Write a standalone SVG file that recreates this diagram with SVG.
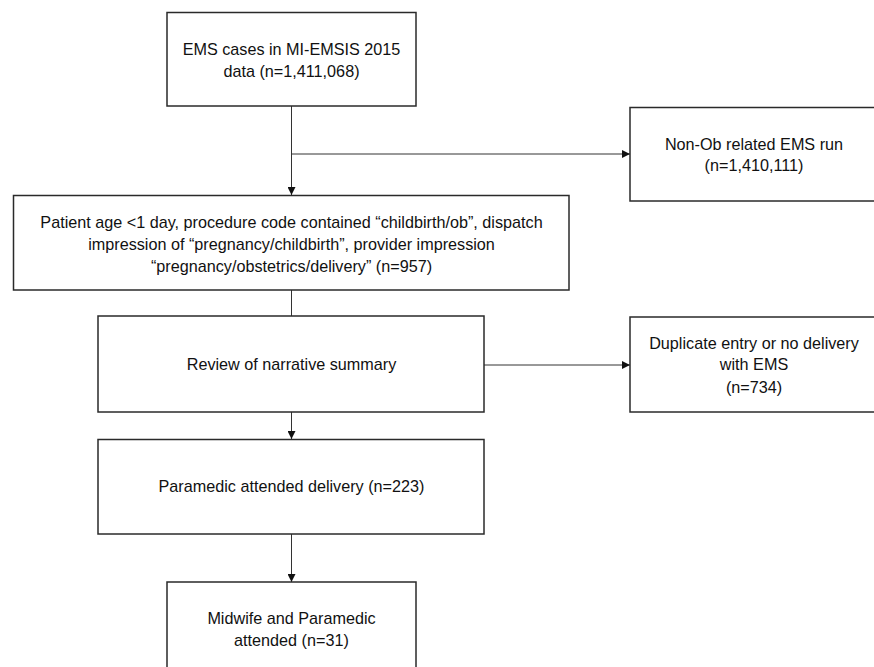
<svg xmlns="http://www.w3.org/2000/svg" width="874" height="667" viewBox="0 0 874 667">
<defs>
<marker id="ah" markerWidth="8" markerHeight="8" refX="8" refY="4" orient="auto" markerUnits="userSpaceOnUse">
<path d="M0,0 L8,4 L0,8 Z" fill="#111"/>
</marker>
<style>
.box{fill:#fff;stroke:#2a2a2a;stroke-width:1.5}
.t{font-family:"Liberation Sans",Arial,sans-serif;font-size:16.2px;fill:#111;text-anchor:middle}
.c{fill:none;stroke:#333;stroke-width:1}
</style>
</defs>
<rect width="874" height="667" fill="#fff"/>
<g id="connectors">
<path class="c" d="M291.5,106 V195" marker-end="url(#ah)"/>
<path class="c" d="M291.5,154 H630" marker-end="url(#ah)"/>
<path class="c" d="M291.5,290 V316"/>
<path class="c" d="M484,365 H630" marker-end="url(#ah)"/>
<path class="c" d="M291.5,412 V439" marker-end="url(#ah)"/>
<path class="c" d="M291.5,534 V582" marker-end="url(#ah)"/>
</g>
<g id="n1">
<rect class="box" x="167" y="12.5" width="249" height="93.5"/>
<text class="t" x="291.5" y="55">EMS cases in MI-EMSIS 2015</text>
<text class="t" x="291.5" y="77">data (n=1,411,068)</text>
</g>
<g id="n2">
<rect class="box" x="630" y="107.5" width="250" height="93.5"/>
<text class="t" x="754" y="150">Non-Ob related EMS run</text>
<text class="t" x="754" y="171">(n=1,410,111)</text>
</g>
<g id="n3">
<rect class="box" x="13.5" y="195.5" width="555.5" height="94.5"/>
<text class="t" x="291.5" y="228">Patient age &lt;1 day, procedure code contained “childbirth/ob”, dispatch</text>
<text class="t" x="291.5" y="250">impression of “pregnancy/childbirth”, provider impression</text>
<text class="t" x="291.5" y="272">“pregnancy/obstetrics/delivery” (n=957)</text>
</g>
<g id="n4">
<rect class="box" x="98" y="316" width="386" height="96"/>
<text class="t" x="291.5" y="370">Review of narrative summary</text>
</g>
<g id="n5">
<rect class="box" x="630" y="317" width="250" height="95"/>
<text class="t" x="754" y="349">Duplicate entry or no delivery</text>
<text class="t" x="754" y="370">with EMS</text>
<text class="t" x="754" y="393">(n=734)</text>
</g>
<g id="n6">
<rect class="box" x="98" y="439.5" width="386" height="94.5"/>
<text class="t" x="291.5" y="492">Paramedic attended delivery (n=223)</text>
</g>
<g id="n7">
<rect class="box" x="167" y="582" width="249" height="100"/>
<text class="t" x="291.5" y="624">Midwife and Paramedic</text>
<text class="t" x="291.5" y="646">attended (n=31)</text>
</g>
</svg>
